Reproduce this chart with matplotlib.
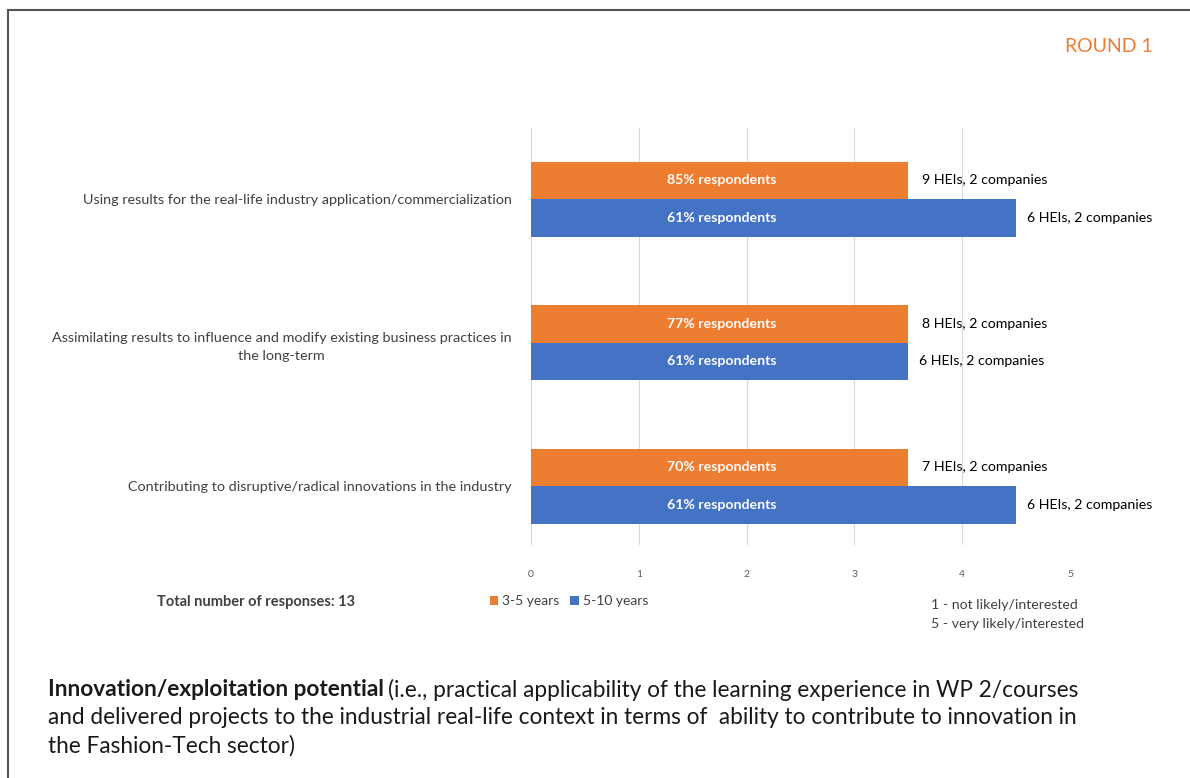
import matplotlib.pyplot as plt
import numpy as np

plt.rcParams['font.family'] = ['Lato', 'DejaVu Sans']

# data
categories = ['Using results for the real-life industry application/commercialization',
              'Assimilating results to influence and modify existing business practices in\nthe long-term',
              'Contributing to disruptive/radical innovations in the industry']
short_term = [3.5, 3.5, 3.5]      # 3-5 years
long_term = [4.5, 3.5, 4.5]       # 5-10 years
short_pct = ['85% respondents', '77% respondents', '70% respondents']
long_pct = ['61% respondents', '61% respondents', '61% respondents']
short_who = ['9 HEIs, 2 companies', '8 HEIs, 2 companies', '7 HEIs, 2 companies']
long_who = ['6 HEIs, 2 companies', '6 HEIs, 2 companies', '6 HEIs, 2 companies']
series_names = ['3-5 years', '5-10 years']

orange = '#ED7D31'
blue = '#4472C4'
txt = '#404040'

fig = plt.figure(figsize=(11.9, 7.78), dpi=100)
W, H = 1190, 778

# slide frame (top + left edge)
fig.add_artist(plt.Line2D([8 / W, 1], [1 - 10 / H, 1 - 10 / H], color='#555555', lw=1.5))
fig.add_artist(plt.Line2D([8 / W, 8 / W], [0, 1 - 10 / H], color='#555555', lw=1.5))

ax = fig.add_axes([531 / W, 1 - 545 / H, 539 / W, 417 / H])
y = np.arange(len(categories))
h = 0.261
ax.barh(y - h / 2, short_term, height=h, color=orange, label=series_names[0])
ax.barh(y + h / 2, long_term, height=h, color=blue, label=series_names[1])

for i in range(len(categories)):
    ax.text(1.77, y[i] - h / 2, short_pct[i], color='white', fontsize=10.2, fontweight='bold',
            ha='center', va='center')
    ax.text(1.77, y[i] + h / 2, long_pct[i], color='white', fontsize=10.2, fontweight='bold',
            ha='center', va='center')
    ax.annotate(short_who[i], (short_term[i], y[i] - h / 2), xytext=(10, 0),
                textcoords='offset points', ha='left', va='center', fontsize=10.2, color='black')
    ax.annotate(long_who[i], (long_term[i], y[i] + h / 2), xytext=(8, 0),
                textcoords='offset points', ha='left', va='center', fontsize=10.2, color='black')

ax.set_xlim(0, 5)
ax.set_ylim(2.41, -0.495)
ax.set_xticks(range(6))
ax.tick_params(axis='x', length=0, labelsize=7.5, labelcolor='#595959', pad=18)
ax.set_yticks(y)
ax.set_yticklabels(categories, fontsize=10.4, color=txt, multialignment='center',
                   linespacing=1.65)
ax.tick_params(axis='y', length=0, pad=14)
ax.grid(axis='x', color='#D9D9D9', lw=0.8)
ax.set_axisbelow(True)
for s in ax.spines.values():
    s.set_visible(False)

# legend
leg = fig.legend(loc='center left', bbox_to_anchor=(477 / W, 1 - 601 / H), ncol=2, frameon=False,
                 fontsize=10, handlelength=0.6, handleheight=0.6, handletextpad=0.3,
                 columnspacing=0.8, labelcolor=txt)

fig.text(157 / W, 1 - 602 / H, 'Total number of responses: 13', fontsize=10.5, fontweight='bold',
         color=txt, va='center')
fig.text(931 / W, 1 - 605 / H, '1 - not likely/interested', fontsize=10.2, color=txt, va='center')
fig.text(931 / W, 1 - 624 / H, '5 - very likely/interested', fontsize=10.2, color=txt, va='center')

fig.text(1153 / W, 1 - 47 / H, 'ROUND 1', fontsize=14, color=orange, ha='right', va='center')

# description below the chart
fs = 16.3
t1 = fig.text(48 / W, 1 - 690 / H, 'Innovation/exploitation potential', fontsize=fs,
              fontweight='bold', color='#1a1a1a', va='center')
fig.canvas.draw()
bb = t1.get_window_extent(fig.canvas.get_renderer())
fig.text(bb.x1 / W + 4 / W, 1 - 690 / H,
         '(i.e., practical applicability of the learning experience in WP 2/courses',
         fontsize=fs, color='#1a1a1a', va='center')
fig.text(48 / W, 1 - 718 / H,
         'and delivered projects to the industrial real-life context in terms of  ability to contribute to innovation in',
         fontsize=fs, color='#1a1a1a', va='center')
fig.text(48 / W, 1 - 746 / H, 'the Fashion-Tech sector)', fontsize=fs, color='#1a1a1a', va='center')

fig.savefig('out.png', dpi=100)
